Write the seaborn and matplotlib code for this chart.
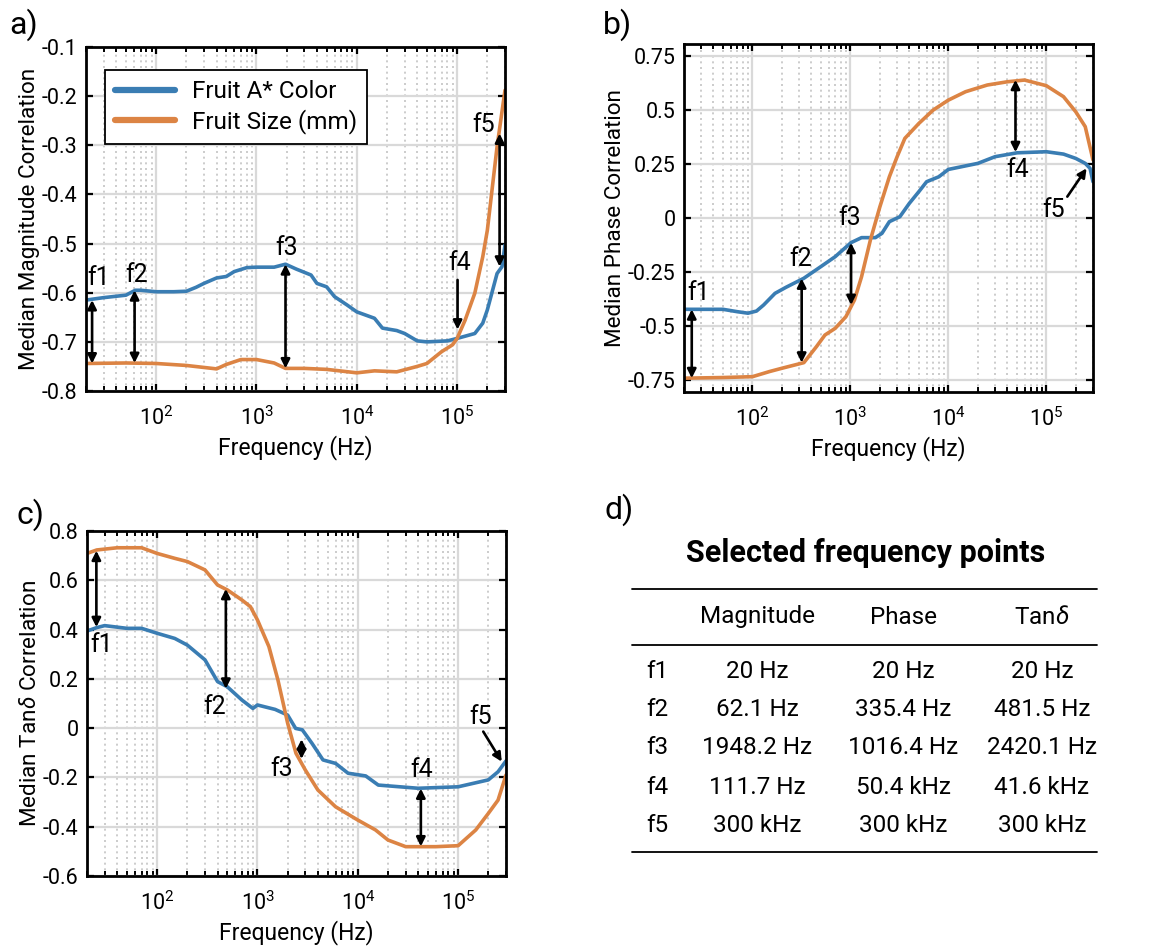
import numpy as np
import pandas as pd
import matplotlib
matplotlib.use("Agg")
import matplotlib.pyplot as plt
import seaborn as sns
from matplotlib.lines import Line2D
from matplotlib.ticker import FixedLocator, LogLocator, NullFormatter, LogFormatterMathtext

sns.set_style("white")
plt.rcParams['font.family'] = ['Roboto', 'DejaVu Sans']
plt.rcParams['axes.unicode_minus'] = False
plt.rcParams['mathtext.fontset'] = 'custom'
plt.rcParams['mathtext.rm'] = 'Roboto'
plt.rcParams['mathtext.it'] = 'Roboto:italic'
plt.rcParams['mathtext.bf'] = 'Roboto:bold'
plt.rcParams['mathtext.default'] = 'regular'
for k in ['text.color', 'axes.labelcolor', 'xtick.color', 'ytick.color']:
    plt.rcParams[k] = 'black'

BLUE = "#3a7db3"
ORANGE = "#dc8444"
SERIES = ["Fruit A* Color", "Fruit Size (mm)"]

# ---------------- Panel a: magnitude ----------------
mag_f_blue = [20, 30, 50, 62, 70, 100, 150, 200, 250, 300, 400, 500, 600, 800, 1000, 1500, 1948,
              2500, 3500, 4000, 5000, 6000, 8000, 10000, 15000, 18000, 25000, 30000, 40000, 50000,
              80000, 100000, 150000, 180000, 200000, 250000, 280000, 300000]
mag_blue = [-0.615, -0.61, -0.605, -0.595, -0.595, -0.598, -0.598, -0.597, -0.589, -0.581, -0.57,
            -0.567, -0.557, -0.549, -0.548, -0.548, -0.542, -0.552, -0.564, -0.581, -0.588, -0.608,
            -0.625, -0.639, -0.652, -0.672, -0.677, -0.683, -0.698, -0.7, -0.698, -0.693, -0.683,
            -0.662, -0.635, -0.561, -0.547, -0.503]
mag_f_orange = [20, 50, 100, 200, 400, 500, 700, 1000, 1500, 1948, 3000, 5000, 10000, 15000, 25000,
                40000, 50000, 70000, 90000, 100000, 120000, 150000, 180000, 200000, 250000, 300000]
mag_orange = [-0.744, -0.743, -0.744, -0.748, -0.755, -0.746, -0.736, -0.736, -0.743, -0.754, -0.754,
              -0.756, -0.763, -0.759, -0.761, -0.75, -0.744, -0.72, -0.706, -0.693, -0.656, -0.601,
              -0.527, -0.473, -0.303, -0.188]
mag_arrow_f = [23, 61, 1948, 265000]
mag_arrow_top = [-0.615, -0.595, -0.542, -0.276]
mag_arrow_bot = [-0.744, -0.743, -0.754, -0.547]
mag_single_from = [(101000, -0.574)]
mag_single_to = [(101000, -0.675)]
mag_lab_text = ["f1", "f2", "f3", "f4", "f5"]
mag_lab_f = [27, 64, 1982, 107000, 185000]
mag_lab_y = [-0.571, -0.564, -0.51, -0.54, -0.259]

# ---------------- Panel b: phase ----------------
ph_f_blue = [20, 50, 70, 90, 110, 130, 170, 220, 335, 500, 700, 1016, 1300, 1800, 2100, 2500, 3200,
             4000, 5000, 6000, 8000, 10000, 20000, 30000, 50400, 100000, 150000, 200000, 250000,
             280000, 300000]
ph_blue = [-0.423, -0.423, -0.434, -0.441, -0.431, -0.403, -0.349, -0.321, -0.279, -0.225, -0.179,
           -0.114, -0.091, -0.091, -0.071, -0.017, 0.006, 0.068, 0.122, 0.168, 0.191, 0.225, 0.253,
           0.284, 0.302, 0.307, 0.296, 0.276, 0.253, 0.23, 0.168]
ph_f_orange = [20, 50, 100, 150, 200, 335, 450, 550, 700, 900, 1100, 1300, 1600, 2000, 2500, 3000,
               3600, 5000, 7000, 10000, 15000, 25000, 40000, 60000, 100000, 150000, 200000, 250000,
               300000]
ph_orange = [-0.742, -0.739, -0.735, -0.711, -0.696, -0.67, -0.596, -0.542, -0.511, -0.457, -0.38,
             -0.272, -0.102, 0.052, 0.191, 0.284, 0.369, 0.438, 0.5, 0.546, 0.585, 0.616, 0.631,
             0.639, 0.613, 0.562, 0.492, 0.423, 0.269]
ph_arrow_f = [24, 318, 1016, 48500]
ph_arrow_top = [-0.423, -0.28, -0.115, 0.64]
ph_arrow_bot = [-0.742, -0.67, -0.403, 0.305]
ph_single_from = [(164000, 0.099)]
ph_single_to = [(258000, 0.23)]
ph_lab_text = ["f1", "f2", "f3", "f4", "f5"]
ph_lab_f = [28, 309, 984, 50500, 120000]
ph_lab_y = [-0.349, -0.191, 0.0, 0.222, 0.037]

# ---------------- Panel c: tan delta ----------------
tan_f_blue = [20, 25, 30, 50, 70, 100, 150, 200, 300, 400, 500, 700, 900, 1000, 1500, 2000, 2400,
              2800, 3500, 4500, 6000, 8000, 12000, 16000, 40000, 100000, 200000, 250000, 300000]
tan_blue = [0.394, 0.408, 0.416, 0.405, 0.405, 0.385, 0.364, 0.337, 0.277, 0.189, 0.168, 0.114, 0.08,
            0.094, 0.076, 0.053, -0.001, -0.007, -0.062, -0.129, -0.143, -0.183, -0.194, -0.231,
            -0.244, -0.238, -0.21, -0.177, -0.133]
tan_f_orange = [20, 25, 40, 70, 100, 150, 200, 300, 400, 500, 700, 850, 1000, 1300, 1600, 2000, 2420,
                3000, 4000, 6000, 10000, 15000, 20000, 30000, 60000, 100000, 150000, 200000, 250000,
                300000]
tan_orange = [0.709, 0.723, 0.732, 0.732, 0.709, 0.689, 0.676, 0.642, 0.581, 0.561, 0.52, 0.493,
              0.439, 0.331, 0.195, 0.02, -0.102, -0.17, -0.251, -0.319, -0.373, -0.413, -0.454,
              -0.481, -0.481, -0.477, -0.413, -0.346, -0.292, -0.19]
tan_arrow_f = [24.8, 484, 2750, 42500]
tan_arrow_top = [0.72, 0.565, -0.045, -0.245]
tan_arrow_bot = [0.41, 0.16, -0.125, -0.48]
tan_single_from = [(178000, -0.014)]
tan_single_to = [(272000, -0.136)]
tan_lab_text = ["f1", "f2", "f3", "f4", "f5"]
tan_lab_f = [28, 372, 1740, 43600, 166000]
tan_lab_y = [0.337, 0.087, -0.167, -0.17, 0.047]

# ---------------- Panel d: table ----------------
table_title = "Selected frequency points"
table_cols = ["Magnitude", "Phase", "Tan$\\it{\\delta}$"]
table_rows = ["f1", "f2", "f3", "f4", "f5"]
table_mag = ["20 Hz", "62.1 Hz", "1948.2 Hz", "111.7 Hz", "300 kHz"]
table_phase = ["20 Hz", "335.4 Hz", "1016.4 Hz", "50.4 kHz", "300 kHz"]
table_tan = ["20 Hz", "481.5 Hz", "2420.1 Hz", "41.6 kHz", "300 kHz"]

W, H = 1157, 948
fig = plt.figure(figsize=(W / 100, H / 100), dpi=100)


def fx(px):
    return px / W


def fy(py):
    return 1 - py / H


def make_df(fb, yb, fo, yo):
    d1 = pd.DataFrame({"f": fb, "y": yb, "s": SERIES[0]})
    d2 = pd.DataFrame({"f": fo, "y": yo, "s": SERIES[1]})
    return pd.concat([d1, d2], ignore_index=True)


def style_axes(ax, ylim, yticks, ylabels, ylabel):
    ax.set_xscale("log")
    ax.set_xlim(20, 3e5)
    ax.set_ylim(*ylim)
    ax.xaxis.set_major_locator(FixedLocator([1e2, 1e3, 1e4, 1e5]))
    ax.xaxis.set_major_formatter(LogFormatterMathtext())
    ax.xaxis.set_minor_locator(LogLocator(base=10, subs=np.arange(2, 10), numticks=20))
    ax.xaxis.set_minor_formatter(NullFormatter())
    ax.set_yticks(yticks)
    ax.set_yticklabels(ylabels)
    ax.grid(True, which="major", color="#d9d9d9", lw=1.6, zorder=0)
    ax.grid(True, which="minor", axis="x", color="#c4c4c4", lw=1.2, ls=(0, (1.2, 2.2)), zorder=0)
    ax.set_axisbelow(True)
    ax.tick_params(which="both", direction="in", top=True, right=True, bottom=True, left=True,
                   labelsize=15.5, color="black", pad=6)
    ax.tick_params(axis="x", which="both", pad=11)
    ax.tick_params(which="major", length=5, width=1.6)
    ax.tick_params(which="minor", length=3.5, width=1.4)
    for sp in ax.spines.values():
        sp.set_color("black")
        sp.set_linewidth(2.0)
    ax.set_xlabel("Frequency (Hz)", fontsize=16.5, labelpad=4)
    ax.set_ylabel(ylabel, fontsize=16.2, labelpad=1.5)


def arrows(ax, af, top, bot, sfrom, sto, ltxt, lf, ly):
    for f, a, b in zip(af, top, bot):
        ax.annotate("", xy=(f, b), xytext=(f, a),
                    arrowprops=dict(arrowstyle="<|-|>", color="black", lw=1.9,
                                    mutation_scale=13, shrinkA=0, shrinkB=0), zorder=5)
    for p0, p1 in zip(sfrom, sto):
        ax.annotate("", xy=p1, xytext=p0,
                    arrowprops=dict(arrowstyle="-|>", color="black", lw=1.9,
                                    mutation_scale=13, shrinkA=0, shrinkB=0), zorder=5)
    for t, f, y in zip(ltxt, lf, ly):
        ax.text(f, y, t, fontsize=18, ha="center", va="center", color="black", zorder=6)


palette = {SERIES[0]: BLUE, SERIES[1]: ORANGE}

# Panel a
ax_a = fig.add_axes([fx(86), fy(391), fx(505) - fx(86), fy(47) - fy(391)])
df_a = make_df(mag_f_blue, mag_blue, mag_f_orange, mag_orange)
sns.lineplot(data=df_a, x="f", y="y", hue="s", palette=palette, estimator=None, sort=False,
             lw=2.6, ax=ax_a, legend=True)
style_axes(ax_a, (-0.8, -0.1), np.round(np.arange(-0.8, -0.05, 0.1), 1),
           ["-0.8", "-0.7", "-0.6", "-0.5", "-0.4", "-0.3", "-0.2", "-0.1"],
           "Median Magnitude Correlation")
arrows(ax_a, mag_arrow_f, mag_arrow_top, mag_arrow_bot, mag_single_from, mag_single_to,
       mag_lab_text, mag_lab_f, mag_lab_y)
handles = [Line2D([0], [0], color=BLUE, lw=4.5), Line2D([0], [0], color=ORANGE, lw=4.5)]
leg = ax_a.legend(handles, SERIES, loc="upper left", bbox_to_anchor=(0.045, 0.932),
                  fontsize=17.5, frameon=True, fancybox=False, framealpha=1, edgecolor="black",
                  handlelength=2.5, borderaxespad=0, borderpad=0.4, labelspacing=0.25,
                  handletextpad=0.7)
leg.get_frame().set_linewidth(1.3)

# Panel b
ax_b = fig.add_axes([fx(684), fy(392), fx(1093) - fx(684), fy(44) - fy(392)])
df_b = make_df(ph_f_blue, ph_blue, ph_f_orange, ph_orange)
sns.lineplot(data=df_b, x="f", y="y", hue="s", palette=palette, estimator=None, sort=False,
             lw=2.6, ax=ax_b, legend=False)
style_axes(ax_b, (-0.806, 0.806), [-0.75, -0.5, -0.25, 0, 0.25, 0.5, 0.75],
           ["-0.75", "-0.5", "-0.25", "0", "0.25", "0.5", "0.75"], "Median Phase Correlation")
arrows(ax_b, ph_arrow_f, ph_arrow_top, ph_arrow_bot, ph_single_from, ph_single_to,
       ph_lab_text, ph_lab_f, ph_lab_y)

# Panel c
ax_c = fig.add_axes([fx(87), fy(876), fx(506) - fx(87), fy(531) - fy(876)])
df_c = make_df(tan_f_blue, tan_blue, tan_f_orange, tan_orange)
sns.lineplot(data=df_c, x="f", y="y", hue="s", palette=palette, estimator=None, sort=False,
             lw=2.6, ax=ax_c, legend=False)
style_axes(ax_c, (-0.6, 0.8), [-0.6, -0.4, -0.2, 0, 0.2, 0.4, 0.6, 0.8],
           ["-0.6", "-0.4", "-0.2", "0", "0.2", "0.4", "0.6", "0.8"],
           "Median Tan$\\it{\\delta}$ Correlation")
arrows(ax_c, tan_arrow_f, tan_arrow_top, tan_arrow_bot, tan_single_from, tan_single_to,
       tan_lab_text, tan_lab_f, tan_lab_y)

# Panel labels
for lab, px, py in [("a)", 9, 25), ("b)", 603, 25), ("c)", 16, 515), ("d)", 604, 510)]:
    fig.text(fx(px), fy(py), lab, fontsize=23, ha="left", va="center")

# Panel d table
fig.text(fx(866), fy(553), table_title, fontsize=22, fontweight="bold", ha="center", va="center")
for py in [589, 645, 852]:
    fig.add_artist(Line2D([fx(632), fx(1097)], [fy(py), fy(py)], color="black", lw=1.3,
                          transform=fig.transFigure))
col_x = [757, 903, 1042]
row_y = [672, 710, 748, 787, 826]
for cx, t in zip(col_x, table_cols):
    fig.text(fx(cx), fy(617), t, fontsize=17.5, ha="center", va="center")
for ry, r, m, p, t in zip(row_y, table_rows, table_mag, table_phase, table_tan):
    fig.text(fx(657), fy(ry), r, fontsize=17.5, ha="center", va="center")
    for cx, v in zip(col_x, [m, p, t]):
        fig.text(fx(cx), fy(ry), v, fontsize=17.5, ha="center", va="center")

fig.savefig("out.png", dpi=100, facecolor="white")
